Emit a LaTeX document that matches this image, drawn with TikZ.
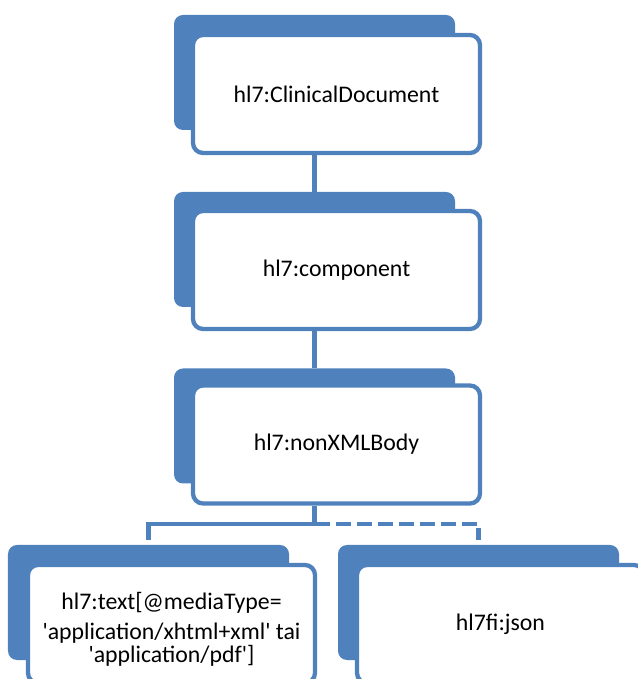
\documentclass[tikz,border=0pt]{standalone}
\usepackage{fontspec}
\setmainfont{Carlito}[Ligatures=TeXOff]
\definecolor{hlblue}{RGB}{79,129,189}

\begin{document}
\begin{tikzpicture}[x=1bp,y=1bp,
    backbox/.style={fill=hlblue,rounded corners=9bp,minimum width=281bp,
        minimum height=115bp,inner sep=0pt,outer sep=0pt},
    frontbox/.style={draw=hlblue,fill=white,line width=4.3bp,rounded corners=10bp,
        minimum width=287bp,minimum height=118bp,inner sep=0pt,align=center,
        font=\fontsize{23.8bp}{23bp}\selectfont},
    link/.style={draw=hlblue,line width=4.3bp}]
    \useasboundingbox (0,0) rectangle (638,679);
    \clip (0,0) rectangle (638,679);

    % Draw boxes
    \node[backbox] (back1) at (314.5,606.5) {};
    \node[frontbox] (doc) at (336.5,585) {hl7:ClinicalDocument};

    \node[backbox] (back2) at (314.5,429.5) {};
    \node[frontbox] (comp) at (336.5,409) {hl7:component};

    \node[backbox] (back3) at (314.5,253) {};
    \node[frontbox] (body) at (336.5,234.5) {hl7:nonXMLBody};

    \node[backbox] (back4) at (148.5,76.5) {};
    \node[frontbox] (text) at (171.5,55)
        {\rule{0pt}{28bp}hl7:text[@mediaType=\\[7bp]'application/xhtml+xml' tai\\'application/pdf']};

    \node[backbox] (back5) at (478.5,76.5) {};
    \node[frontbox] (json) at (500.5,55) {hl7fi:json};

    % Draw links
    \draw[link] (back2.north |- doc.south) -- (back2.north);
    \draw[link] (back3.north |- comp.south) -- (back3.north);

    \coordinate (split) at (314.5,155);
    \coordinate (leftend) at ([yshift=5bp]back4.north);
    \coordinate (rightend) at ([yshift=5bp]back5.north);
    \draw[link] (body.south -| split) -- (split) -| (leftend);
    \draw[link,dash pattern=on 15bp off 6bp] (split) -| (rightend);

\end{tikzpicture}
\end{document}
